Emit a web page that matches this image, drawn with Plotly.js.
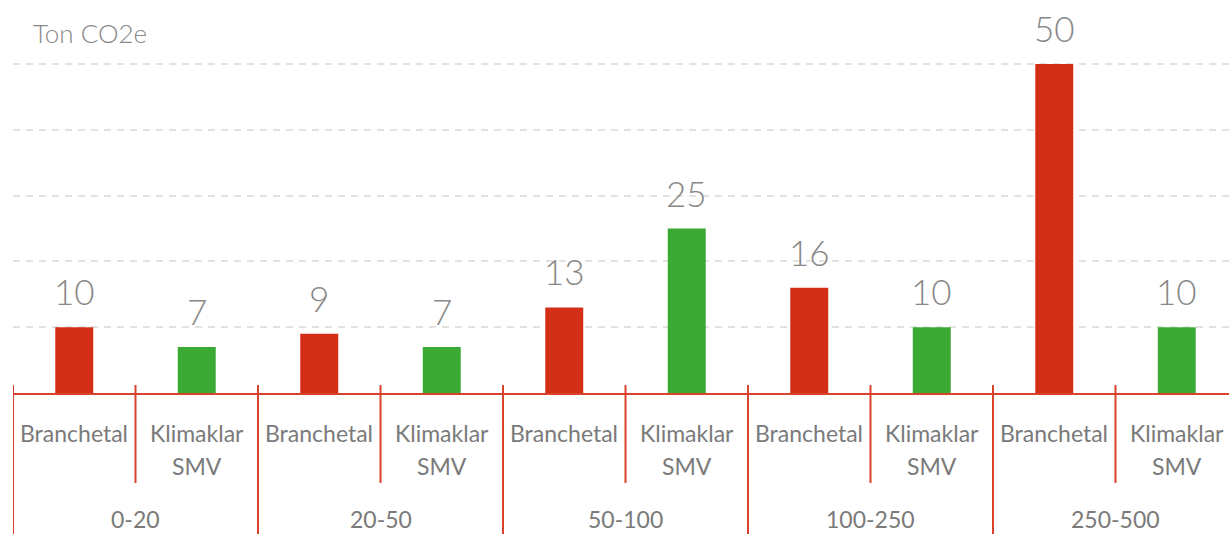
<!DOCTYPE html>
<html>
<head>
<meta charset="utf-8">
<script src="https://cdn.plot.ly/plotly-3.0.1.min.js"></script>
<style>html,body{margin:0;padding:0;background:#fff;}#chart{width:1229px;height:534px;}</style>
</head>
<body>
<div id="chart"></div>
<script>
const groups = ['0-20', '20-50', '50-100', '100-250', '250-500'];
const seriesNames = ['Branchetal', 'Klimaklar<br>SMV'];
const branchetal = [10, 9, 13, 16, 50];
const klimaklar = [7, 7, 25, 10, 10];
const yTitle = 'Ton CO2e';

const RED = '#d32f17';
const GREEN = '#3aaa35';
const AXIS = '#d9432c';
const TXT = '#7a7a7a';
const FONT = 'Lato, "Open Sans", sans-serif';

const plotTopPx = 0, baselinePx = 393, plotH = baselinePx - plotTopPx;
const pxToPaper = p => (baselinePx - p) / plotH;

const xB = groups.map((g, i) => 2 * i);
const xK = groups.map((g, i) => 2 * i + 1);

const traces = [
  {type: 'bar', x: xB, y: branchetal, name: 'Branchetal', marker: {color: RED}, width: 0.31, hoverinfo: 'y'},
  {type: 'bar', x: xK, y: klimaklar, name: 'Klimaklar SMV', marker: {color: GREEN}, width: 0.31, hoverinfo: 'y'}
];

const annotations = [];
const shapes = [];

// value labels
[[xB, branchetal], [xK, klimaklar]].forEach(([xs, vs]) => {
  xs.forEach((x, i) => {
    annotations.push({x: x, y: vs[i], xref: 'x', yref: 'y', text: String(vs[i]), showarrow: false,
      yanchor: 'bottom', yshift: 13, font: {family: FONT, size: 35, color: '#888888', weight: 300}});
  });
});

// category labels (each line of a label placed on its own row)
groups.forEach((g, i) => {
  [xB[i], xK[i]].forEach((x, s) => {
    seriesNames[s].split('<br>').forEach((line, k) => {
      annotations.push({x: x, y: pxToPaper(433 + 33 * k), xref: 'x', yref: 'paper', text: line, showarrow: false,
        yanchor: 'middle', font: {family: FONT, size: 23, color: TXT, weight: 400}});
    });
  });
  annotations.push({x: 2 * i + 0.5, y: pxToPaper(519), xref: 'x', yref: 'paper', text: g, showarrow: false,
    yanchor: 'middle', font: {family: FONT, size: 23, color: TXT, weight: 400}});
});

// separators
for (let b = 0; b < groups.length * 2; b++) {
  const isGroup = b % 2 === 0;
  shapes.push({type: 'line', xref: 'x', yref: 'paper', x0: b - 0.5, x1: b - 0.5,
    y0: pxToPaper(385), y1: pxToPaper(isGroup ? 540 : 483), line: {color: AXIS, width: 2}});
}

annotations.push({xref: 'paper', yref: 'paper', x: (31 - 13) / 1216, y: pxToPaper(33), xanchor: 'left', yanchor: 'middle',
  text: yTitle, showarrow: false, font: {family: FONT, size: 26, color: '#888888', weight: 300}});

const layout = {
  width: 1229, height: 534,
  margin: {l: 13, r: 0, t: plotTopPx, b: 534 - baselinePx, pad: 0},
  paper_bgcolor: '#fff', plot_bgcolor: '#fff',
  showlegend: false,
  barmode: 'overlay',
  xaxis: {range: [-0.5, 9.4265], showticklabels: false, ticks: '', showgrid: false, zeroline: false,
    showline: true, linecolor: AXIS, linewidth: 2, fixedrange: true},
  yaxis: {range: [0, 59.73], dtick: 10, tick0: 0, showticklabels: false, ticks: '', showgrid: true,
    gridcolor: '#e2e2e2', gridwidth: 2, griddash: '7px,6px', zeroline: false, showline: false, fixedrange: true},
  annotations: annotations,
  shapes: shapes
};

Plotly.newPlot('chart', traces, layout, {displayModeBar: false, staticPlot: true});
</script>
</body>
</html>
